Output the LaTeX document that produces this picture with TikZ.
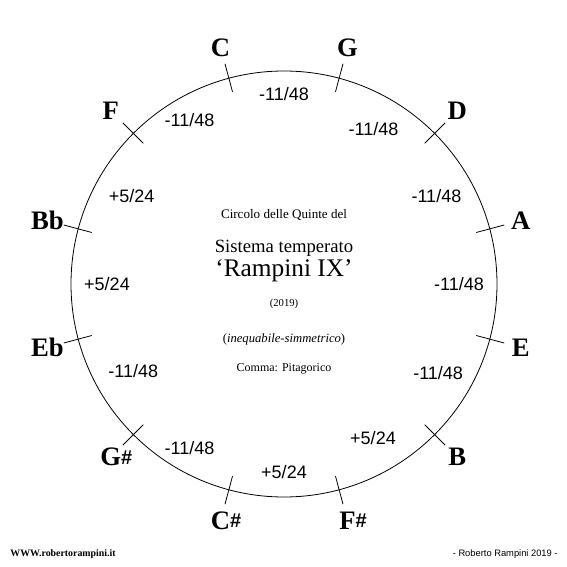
\documentclass[tikz,border=0pt]{standalone}
\usepackage{fontspec}
\setmainfont{Liberation Serif}
\newfontfamily\fifthfont{Liberation Sans}
\usetikzlibrary{positioning}
\tikzset{
  notelbl/.style={font=\fontsize{20}{22}\selectfont\bfseries,inner sep=0pt},
  fifthlbl/.style={font=\fifthfont\fontsize{13.5}{15}\selectfont,inner sep=0pt},
  titletxt/.style={anchor=base,inner sep=0pt},
}
\newcommand{\shrp}[1]{#1\rlap{\raisebox{1.2pt}{\fifthfont\fontsize{15}{15}\selectfont\#}}}

\begin{document}
\begin{tikzpicture}[x=0.75pt,y=0.75pt,line width=0.6pt]
\useasboundingbox (-284,-283) rectangle (283,284);
\coordinate (O) at (0,0);
\draw (O) circle (213);
% notes, clockwise from C
\foreach \a/\n/\t in {105/C/C,75/G/G,45/D/D,15/A/A,-15/E/E,-45/B/B,-75/Fs/\shrp{F},-105/Cs/\shrp{C},-135/Gs/\shrp{G},-165/Eb/Eb,165/Bb/Bb,135/F/F}{
  \coordinate (t\n a) at (\a:199);
  \coordinate (t\n b) at (\a:228);
  \draw (t\n a) -- (t\n b);
  \node[notelbl] (n\n) at (\a:245) {\t};
}
% deviations of the fifths
\foreach \a/\r/\t [count=\i] in {90/190/{-11/48},60/179/{-11/48},30/176/{-11/48},0/175/{-11/48},-30/178/{-11/48},-60/178/{+5/24},-90/188/{+5/24},-120/189/{-11/48},-150/174/{-11/48},180/177/{+5/24},150/176/{+5/24},120/189/{-11/48}}{
  \node[fifthlbl] (f\i) at (\a:\r) {\t};
}
\node[titletxt,font=\fontsize{9.8}{11}\selectfont] (circ) at (0,65) {Circolo delle Quinte del};
\node[titletxt,font=\fontsize{14}{16}\selectfont] (sist) at (0,31) {Sistema temperato};
\node[titletxt,font=\fontsize{19}{21}\selectfont] (ramp) at (0,7) {‘Rampini IX’};
\node[titletxt,font=\fontsize{8}{9}\selectfont] (year) at (0,-23) {(2019)};
\node[titletxt,font=\fontsize{9.5}{10}\selectfont] (ineq) at (0,-58) {(\textit{inequabile-simmetrico})};
\node[titletxt,font=\fontsize{9}{10}\selectfont] (comm) at (0,-87) {Comma: Pitagorico};
\node[anchor=base west,inner sep=0pt,font=\fontsize{7.4}{8}\selectfont\bfseries] (web) at (-274,-272) {WWW.robertorampini.it};
\node[anchor=base east,inner sep=0pt,font=\fifthfont\fontsize{7}{8}\selectfont] (sign) at (274,-272) {- Roberto Rampini 2019 -};
\end{tikzpicture}
\end{document}
